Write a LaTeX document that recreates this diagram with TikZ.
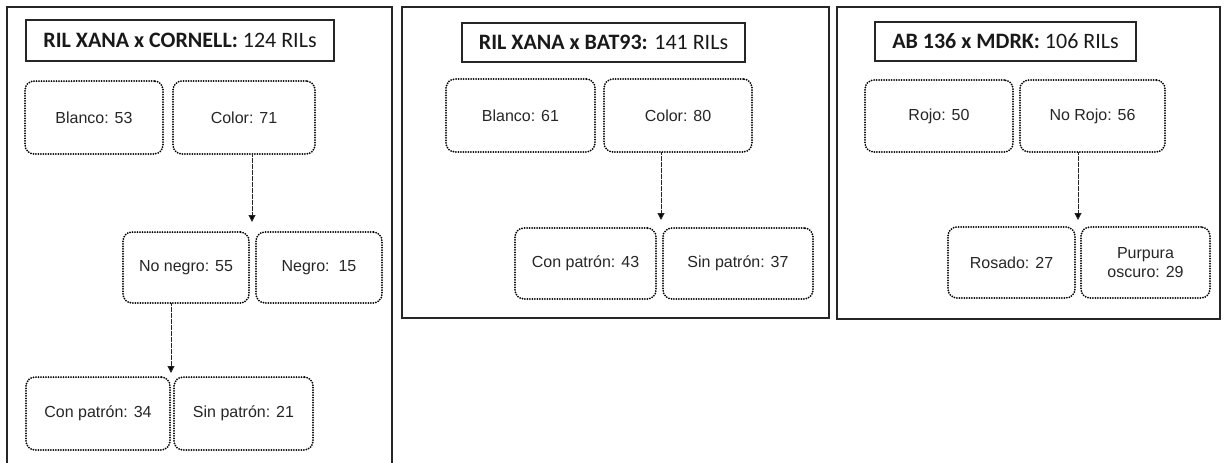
\documentclass[tikz,border=0pt]{standalone}
\usepackage{fontspec}
\setmainfont{Liberation Sans}
\newfontfamily\titlefont{Carlito}
\usetikzlibrary{arrows.meta}

% a dotted rounded box given by its corners (x1,y1) and (x2,y2)
\newcommand\catbox[6]{%
  \node[catnode, minimum width={(#4-#2)*1pt}, minimum height={(#5-#3)*1pt}]
    (#1) at ({(#2+#4)/2},{(#3+#5)/2}) {#6};}
% a solid title box
\newcommand\headbox[6]{%
  \node[headnode, minimum width={(#4-#2)*1pt}, minimum height={(#5-#3)*1pt}]
    (#1) at ({(#2+#4)/2},{(#3+#5)/2}) {#6};}

\begin{document}
\begin{tikzpicture}[x=1pt, y=-1pt,
  frame/.style={draw=black!85, line width=1.5pt},
  headnode/.style={draw=black!85, line width=1.6pt, inner sep=0pt, outer sep=0pt,
    font=\titlefont\fontsize{22}{26}\selectfont, text=black!90},
  catnode/.style={draw=black, line width=2pt, dash pattern=on 0pt off 2.5pt,
    line cap=round, rounded corners=9pt, inner sep=0pt, outer sep=0pt,
    align=center, font=\fontsize{16}{19.5}\selectfont, text=black!85},
  link/.style={draw=black!85, line width=1pt, dash pattern=on 0.6pt off 0.6pt,
    -{Triangle[width=7pt,length=7pt,fill=black]}}
]
\useasboundingbox (0,0) rectangle (1224,463);

% ---- panel 1: RIL XANA x CORNELL ----
\draw[frame] (7,463) -- (7,7) -- (392,7) -- (392,463);
\headbox{t1}{26}{20}{334}{61}{\textbf{RIL XANA x CORNELL:} 124 RILs}
\catbox{blanco1}{25}{81}{163}{154}{Blanco: 53}
\catbox{color1}{173}{81}{315}{154}{Color: 71}
\catbox{nonegro}{123}{232}{249}{303}{No negro: 55}
\catbox{negro}{256}{232}{382}{303}{Negro:~~15}
\catbox{con1}{26}{377}{170}{450}{Con patrón: 34}
\catbox{sin1}{174}{377}{313}{450}{Sin patrón: 21}
\coordinate (a1) at (252,222);
\coordinate (a2) at (171,373);
\draw[link] (color1.south -| a1) -- (a1);
\draw[link] (nonegro.south -| a2) -- (a2);

% ---- panel 2: RIL XANA x BAT93 ----
\draw[frame] (402,7) rectangle (829,318);
\headbox{t2}{462}{23}{745}{62}{\textbf{RIL XANA x BAT93:} 141 RILs}
\catbox{blanco2}{446}{79}{595}{152}{Blanco: 61}
\catbox{color2}{604}{79}{752}{152}{Color: 80}
\catbox{con2}{515}{228}{656}{299}{Con patrón: 43}
\catbox{sin2}{663}{228}{813}{299}{Sin patrón: 37}
\coordinate (a3) at (661,220);
\draw[link] (color2.south -| a3) -- (a3);

% ---- panel 3: AB 136 x MDRK ----
\draw[frame] (837,7) rectangle (1220,319);
\headbox{t3}{875}{22}{1136}{61}{\textbf{AB 136 x MDRK:} 106 RILs}
\catbox{rojo}{865}{80}{1013}{152}{Rojo: 50}
\catbox{norojo}{1020}{80}{1165}{152}{No Rojo: 56}
\catbox{rosado}{948}{227}{1075}{298}{Rosado: 27}
\catbox{purpura}{1081}{227}{1210}{298}{Purpura\\oscuro: 29}
\coordinate (a4) at (1078,220);
\draw[link] (norojo.south -| a4) -- (a4);
\end{tikzpicture}
\end{document}
